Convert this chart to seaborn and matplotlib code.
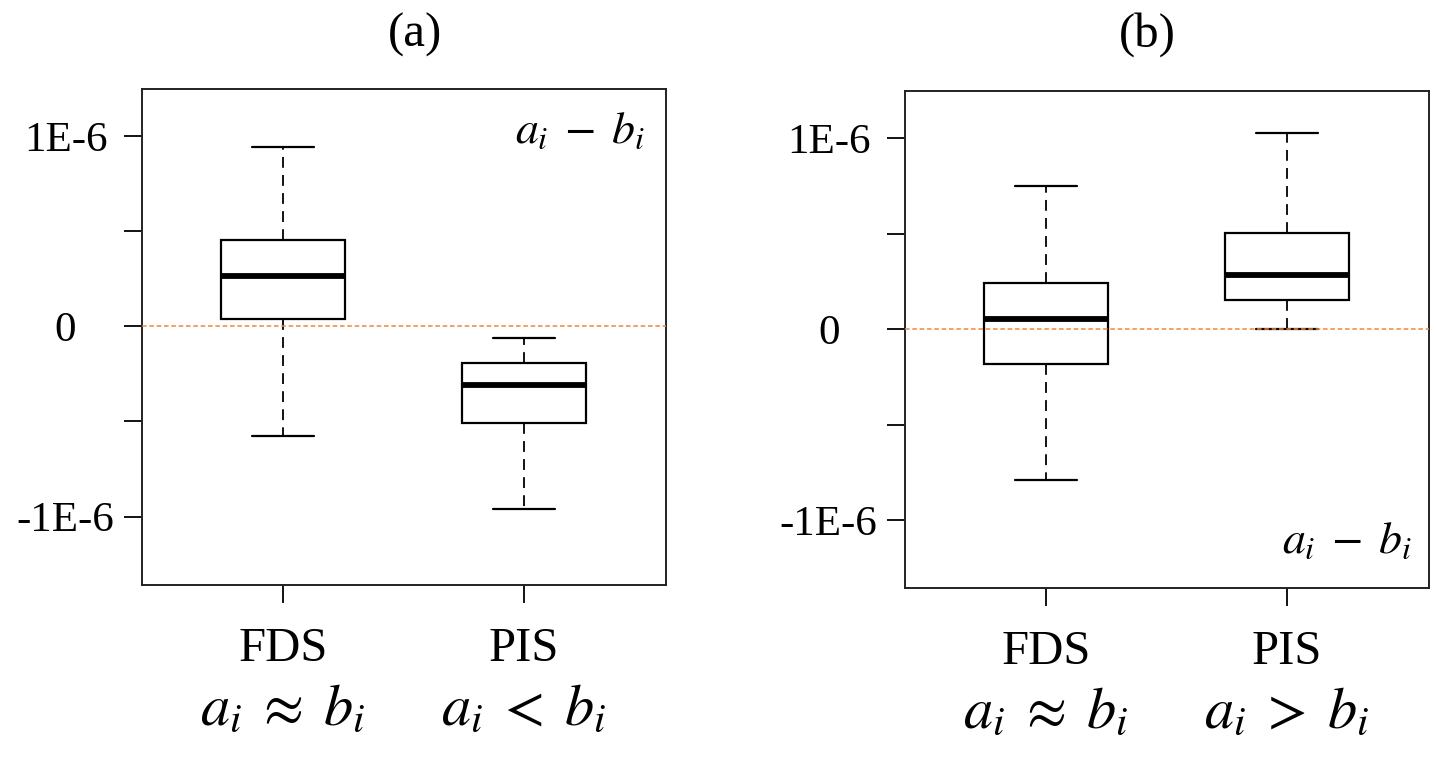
import matplotlib.pyplot as plt
import seaborn as sns
import numpy as np
import pandas as pd

# Five-number summaries, in units of 1E-6:
# lower whisker, Q1, median, Q3, upper whisker
categories = ['FDS', 'PIS']
fds_a = [-0.576, 0.037, 0.264, 0.453, 0.946]
pis_a = [-0.961, -0.506, -0.310, -0.193, -0.061]
fds_b = [-0.789, -0.183, 0.052, 0.244, 0.750]
pis_b = [0.000, 0.153, 0.284, 0.506, 1.026]
conditions_a = [r'$a_i\;\approx\;b_i$', r'$a_i\;<\;b_i$']
conditions_b = [r'$a_i\;\approx\;b_i$', r'$a_i\;>\;b_i$']
panel_titles = ['(a)', '(b)']
note_text = r'$a_i\;-\;b_i$'
ytick_values = [-1e-6, -0.5e-6, 0, 0.5e-6, 1e-6]
ytick_labels = ['-1E-6', '', '0', '', '1E-6']

sns.set_style('ticks')
plt.rcParams['font.family'] = ['Liberation Serif', 'DejaVu Serif']
plt.rcParams['mathtext.fontset'] = 'stix'
plt.rcParams['text.color'] = 'black'


def to_long(fds: list, pis: list) -> pd.DataFrame:
    """Stack the two summaries into a long dataframe for seaborn."""
    return pd.DataFrame({'method': np.repeat(categories, 5),
                         'diff': np.array(fds + pis) * 1e-6})


def draw_panel(ax, data, conditions, title, title_xy, note_xy):
    # whis=(0, 100) puts the whiskers at min/max of the five values,
    # so the boxes reproduce the summaries exactly
    sns.boxplot(data=data, x='method', y='diff', order=categories, ax=ax,
                whis=(0, 100), width=0.515, color='white',
                linecolor='black', linewidth=1.6, saturation=1,
                showfliers=False,
                medianprops={'linewidth': 4.2, 'color': 'black'},
                whiskerprops={'linestyle': (0, (6, 4)),
                              'linewidth': 1.3})
    ax.axhline(0, color='#f0883a', lw=1.1, ls=(0, (3, 1.8)), zorder=5)

    ax.set_yticks(ytick_values)
    ax.set_yticklabels(ytick_labels)
    ax.set_xlim(-0.585, 1.589)
    ax.set_xlabel('')
    ax.set_ylabel('')
    ax.tick_params(axis='both', direction='out', length=13, width=1.3,
                   colors='black')
    ax.tick_params(axis='y', labelsize=31, pad=42)
    ax.tick_params(axis='x', labelsize=35, pad=17)
    plt.setp(ax.get_yticklabels(), ha='center')
    for side in ['top', 'bottom', 'left', 'right']:
        ax.spines[side].set_visible(True)
        ax.spines[side].set_linewidth(1.4)
        ax.spines[side].set_color('#222222')

    trans = ax.get_xaxis_transform()
    for pos, cond in enumerate(conditions):
        ax.text(pos, -0.2535, cond, transform=trans, ha='center',
                va='center', fontsize=42)
    ax.text(title_xy[0], title_xy[1], title, transform=ax.transAxes,
            ha='center', va='center', fontsize=35)
    ax.text(note_xy[0], note_xy[1], note_text, transform=ax.transAxes,
            ha='right', va='baseline', fontsize=33)


fig = plt.figure(figsize=(14.37, 7.62), dpi=100)
ax_a = fig.add_axes([0.0988, 0.2323, 0.3646, 0.6509])
ax_b = fig.add_axes([0.6298, 0.2283, 0.3646, 0.6522])

draw_panel(ax_a, to_long(fds_a, pis_a), conditions_a,
           panel_titles[0], (0.521, 1.11), (0.96, 0.891))
ax_a.set_ylim(-1.36e-6, 1.249e-6)

draw_panel(ax_b, to_long(fds_b, pis_b), conditions_b,
           panel_titles[1], (0.462, 1.113), (0.969, 0.070))
ax_b.set_ylim(-1.354e-6, 1.248e-6)

fig.savefig('out.png', dpi=100)
